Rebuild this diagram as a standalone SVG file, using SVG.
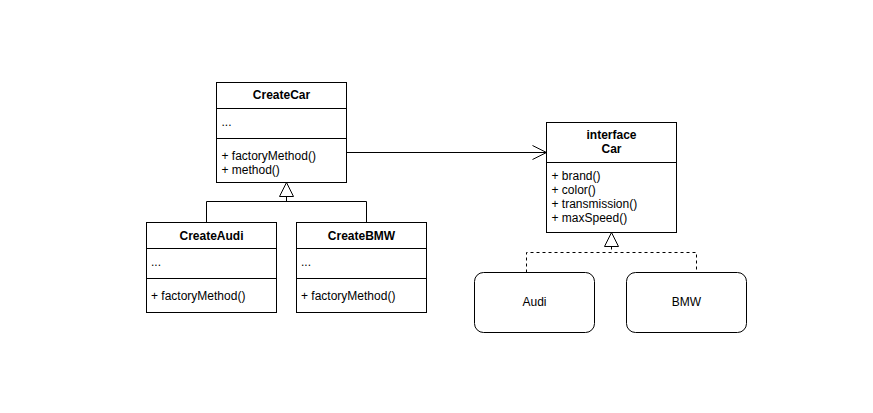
<svg xmlns="http://www.w3.org/2000/svg" width="873" height="413" viewBox="0 0 873 413">
<style>
.box{fill:#fff;stroke:#000;stroke-width:1}
.ln{stroke:#000;stroke-width:1;fill:none}
.dash{stroke:#000;stroke-width:1;fill:none;stroke-dasharray:3 3}
text{font-family:"Liberation Sans",Arial,Helvetica,sans-serif;font-size:12px;fill:#000}
.t{font-weight:bold;text-anchor:middle}
.c{text-anchor:middle}
.tri{fill:#fff;stroke:#000;stroke-width:1}
</style>
<rect width="873" height="413" fill="#fff"/>
<g id="connectors">
  <path class="ln" d="M346.5 152.5H546.5"/>
  <path class="ln" d="M532.5 145.5L546.5 152.5L532.5 159.5"/>
  <path class="ln" d="M286.5 196.5V201.5M206.5 222.5V201.5H366.5V222.5"/>
  <path class="tri" d="M286.5 182.5L279.5 196.5H293.5Z"/>
  <path class="dash" d="M611.5 246.5V252.5M526.5 272.5V252.5H696.5V272.5"/>
  <path class="tri" d="M611.5 232.5L604.5 246.5H618.5Z"/>
</g>
<g id="CreateCar">
  <rect class="box" x="216.5" y="82.5" width="130" height="100"/>
  <path class="ln" d="M216.5 108.5H346.5M216.5 138.5H346.5"/>
  <text class="t" x="281.5" y="99">CreateCar</text>
  <text x="221.5" y="126">...</text>
  <text x="221.5" y="160">+ factoryMethod()</text>
  <text x="221.5" y="174">+ method()</text>
</g>
<g id="CreateAudi">
  <rect class="box" x="146.5" y="222.5" width="130" height="90"/>
  <path class="ln" d="M146.5 248.5H276.5M146.5 278.5H276.5"/>
  <text class="t" x="211.5" y="240">CreateAudi</text>
  <text x="151" y="266">...</text>
  <text x="151" y="300">+ factoryMethod()</text>
</g>
<g id="CreateBMW">
  <rect class="box" x="296.5" y="222.5" width="130" height="90"/>
  <path class="ln" d="M296.5 248.5H426.5M296.5 278.5H426.5"/>
  <text class="t" x="361.5" y="240">CreateBMW</text>
  <text x="301" y="266">...</text>
  <text x="301" y="300">+ factoryMethod()</text>
</g>
<g id="Car">
  <rect class="box" x="546.5" y="122.5" width="130" height="110"/>
  <path class="ln" d="M546.5 162.5H676.5"/>
  <text class="t" x="611.5" y="139">interface</text>
  <text class="t" x="611.5" y="153">Car</text>
  <text x="551.5" y="179.5">+ brand()</text>
  <text x="551.5" y="194">+ color()</text>
  <text x="551.5" y="208">+ transmission()</text>
  <text x="551.5" y="222">+ maxSpeed()</text>
</g>
<g id="Audi">
  <rect class="box" x="474.5" y="272.5" width="120" height="60" rx="9"/>
  <text class="c" x="534.5" y="306">Audi</text>
</g>
<g id="BMW">
  <rect class="box" x="626.5" y="272.5" width="120" height="60" rx="9"/>
  <text class="c" x="686.5" y="306">BMW</text>
</g>
</svg>
